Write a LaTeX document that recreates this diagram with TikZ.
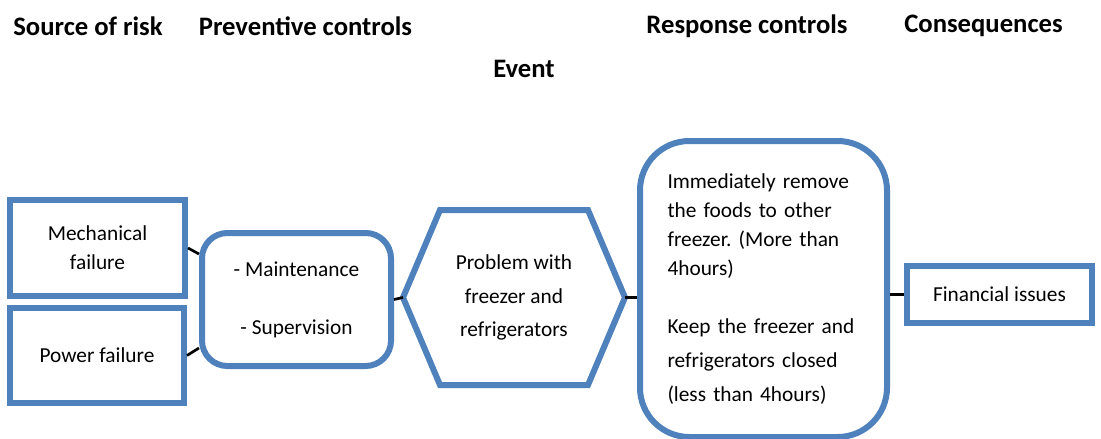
\documentclass[tikz,border=0pt]{standalone}
\usepackage{fontspec}
\setmainfont{Carlito}
\definecolor{bt_blue}{RGB}{79, 129, 189}
\usepackage{tikz}
\usetikzlibrary{positioning, calc}
\frenchspacing

\begin{document}
\begin{tikzpicture}[x=0.75pt, y=-0.75pt,
            font=\fontsize{16}{21.75}\selectfont,
            edge/.style={draw=bt_blue, line width=4.5pt},
            box/.style={edge, fill=white, align=center, inner sep=0pt},
            head/.style={font=\fontsize{20}{24}\selectfont\bfseries},
            link/.style={draw=black, line width=2pt}]
            \useasboundingbox (0,0) rectangle (1101,439);
            % column titles
            \node[head] (h1) at (88,26) {Source of risk};
            \node[head] (h2) at (305.5,26) {Preventive controls};
            \node[head] (h3) at (524,69) {Event};
            \node[head] (h4) at (747,26) {Response controls};
            \node[head] (h5) at (983.5,26) {Consequences};
            % boxes
            \node[box, minimum width=131.25pt, minimum height=72pt] (mech) at (97.5,248)
              {Mechanical\\failure};
            \node[box, minimum width=130.5pt, minimum height=71.25pt] (power) at (97,355.5)
              {Power failure};
            \node[box, rounded corners=19pt, minimum width=141.75pt, minimum height=99.75pt]
              (prev) at (296.5,299.5)
              {- Maintenance\\[21.75pt]- Supervision};
            \node[align=center, inner sep=0pt, outer sep=0pt,
                  minimum width=166.5pt, minimum height=131.25pt] (evt) at (514,297.5)
              {Problem with\\[3.5pt]freezer and\\[3.5pt]refrigerators};
            \draw[edge] ($(evt.north west)+(37,0)$) -- ($(evt.north east)+(-37,0)$)
              -- (evt.east) -- ($(evt.south east)+(-37,0)$)
              -- ($(evt.south west)+(37,0)$) -- (evt.west) -- cycle;
            \node[box, rounded corners=37pt, align=left, text width=144pt,
                  minimum width=185.25pt, minimum height=222pt] (resp) at (763.5,289)
              {Immediately remove\\the foods to other\\freezer. (More than\\4hours)\\[21.75pt]%
               Keep the freezer and\\[3.5pt]refrigerators closed\\[3.5pt](less than 4hours)};
            \node[box, minimum width=138.75pt, minimum height=42.75pt] (csq) at (999.5,294.5)
              {Financial issues};
            % connectors
            \draw[link] (mech.east) -- ($(prev.west)+(0,-45.5)$);
            \draw[link] (power.east) -- ($(prev.west)+(0,48.5)$);
            \draw[link] (prev.east) -- (evt.west);
            \draw[link] (evt.east) -- (evt.east -| resp.west);
            \draw[link] (resp.east |- csq.west) -- (csq.west);
          \end{tikzpicture}
\end{document}
